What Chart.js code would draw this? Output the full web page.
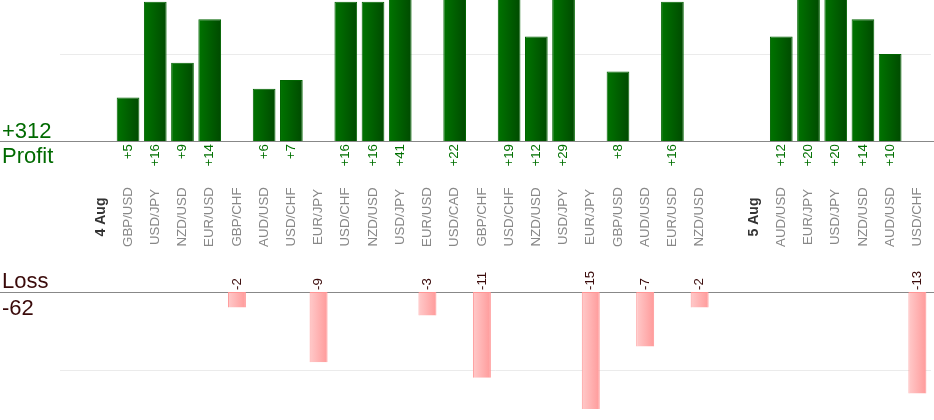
<!DOCTYPE html>
<html>
<head>
<meta charset="utf-8">
<script src="https://cdn.jsdelivr.net/npm/chart.js@4.4.1/dist/chart.umd.min.js"></script>
<style>
  body { margin: 0; background: #fff; }
  #wrap { position: relative; width: 934px; height: 420px; }
</style>
</head>
<body>
<div id="wrap"><canvas id="pnlChart"></canvas></div>
<script>
// one slot per trade, '' = spacer before each day
const categories = ['', '4 Aug', 'GBP/USD', 'USD/JPY', 'NZD/USD', 'EUR/USD', 'GBP/CHF', 'AUD/USD', 'USD/CHF', 'EUR/JPY',
  'USD/CHF', 'NZD/USD', 'USD/JPY', 'EUR/USD', 'USD/CAD', 'GBP/CHF', 'USD/CHF', 'NZD/USD', 'USD/JPY', 'EUR/JPY',
  'GBP/USD', 'AUD/USD', 'EUR/USD', 'NZD/USD', '', '5 Aug', 'AUD/USD', 'EUR/JPY', 'USD/JPY', 'NZD/USD', 'AUD/USD', 'USD/CHF'];
const dayLabels = ['4 Aug', '5 Aug'];
const profit = [null, null, 5, 16, 9, 14, null, 6, 7, null, 16, 16, 41, null, 22, null, 19, 12, 29, null,
  8, null, 16, null, null, null, 12, 20, 20, 14, 10, null];
const loss = [null, null, null, null, null, null, -2, null, null, -9, null, null, null, -3, null, -11, null, null, null, -15,
  null, -7, null, -2, null, null, null, null, null, null, null, -13];

const FONT = "Arial, 'Liberation Sans', sans-serif";
const H = 420;
const profitZero = 141, profitPx = 8.7;   // pixel of 0 and px per unit, top part
const lossZero = 292, lossPx = 7.8;       // same for the loss part

const totalProfit = profit.reduce((a, v) => a + (v || 0), 0);
const totalLoss = loss.reduce((a, v) => a + (v || 0), 0);

function barGrad(c, from, to) {
  const chart = c.chart;
  const xs = chart.scales && chart.scales.x;
  if (!chart.chartArea || !xs || c.dataIndex === undefined) return from;
  const x = xs.getPixelForValue(c.dataIndex);
  const w = xs.width / chart.data.labels.length * c.dataset.barPercentage;
  const g = chart.ctx.createLinearGradient(x - w / 2, 0, x + w / 2, 0);
  g.addColorStop(0, from);
  g.addColorStop(1, to);
  return g;
}

const textPlugin = {
  id: 'pnlText',
  beforeDatasetsDraw(chart) {
    const ctx = chart.ctx;
    const y0 = chart.scales.y.getPixelForValue(0);
    const y1 = chart.scales.y2.getPixelForValue(0);
    ctx.save();
    ctx.strokeStyle = '#888';
    ctx.lineWidth = 1;
    ctx.beginPath();
    ctx.moveTo(0, Math.round(y0) + 0.5); ctx.lineTo(chart.width, Math.round(y0) + 0.5);
    ctx.moveTo(0, Math.round(y1) + 0.5); ctx.lineTo(chart.width, Math.round(y1) + 0.5);
    ctx.stroke();
    ctx.restore();
  },
  afterDatasetsDraw(chart) {
    const ctx = chart.ctx;
    const xs = chart.scales.x;
    const y0 = chart.scales.y.getPixelForValue(0);
    const y1 = chart.scales.y2.getPixelForValue(0);
    const midY = (y0 + y1) / 2 + 0.5;

    ctx.save();
    ctx.textBaseline = 'middle';
    categories.forEach((lab, i) => {
      const x = xs.getPixelForValue(i);
      // category / day labels
      if (lab) {
        ctx.save();
        ctx.translate(x, midY);
        ctx.rotate(-Math.PI / 2);
        ctx.textAlign = 'center';
        if (dayLabels.includes(lab)) {
          ctx.font = 'bold 14px ' + FONT;
          ctx.fillStyle = '#333';
        } else {
          ctx.font = '13.3px ' + FONT;
          ctx.fillStyle = '#888';
        }
        ctx.fillText(lab, 0, 0);
        ctx.restore();
      }
      if (profit[i] != null) {
        ctx.save();
        ctx.translate(x, y0 + 3);
        ctx.rotate(-Math.PI / 2);
        ctx.textAlign = 'right';
        ctx.font = '13.3px ' + FONT;
        ctx.fillStyle = '#007000';
        ctx.fillText('+' + profit[i], 0, 0);
        ctx.restore();
      }
      if (loss[i] != null) {
        ctx.save();
        ctx.translate(x, y1 - 2);
        ctx.rotate(-Math.PI / 2);
        ctx.textAlign = 'left';
        ctx.font = '13.3px ' + FONT;
        ctx.fillStyle = '#3a0a0a';
        ctx.fillText(String(loss[i]), 0, 0);
        ctx.restore();
      }
    });

    // totals on the left
    ctx.textBaseline = 'alphabetic';
    ctx.textAlign = 'left';
    ctx.font = '22px ' + FONT;
    ctx.fillStyle = '#006a00';
    ctx.fillText('+' + totalProfit, 2, y0 - 3);
    ctx.fillText('Profit', 2, y0 + 22);
    ctx.fillStyle = '#3a0a0a';
    ctx.fillText('Loss', 2, y1 - 4);
    ctx.fillText(String(totalLoss), 2, y1 + 23);
    ctx.restore();
  }
};

const ctx = document.getElementById('pnlChart').getContext('2d');
const pnlChart = new Chart(ctx, {
  type: 'bar',
  data: {
    labels: categories,
    datasets: [{
      label: 'Profit',
      data: profit,
      yAxisID: 'y',
      barPercentage: 0.834,
      categoryPercentage: 1,
      backgroundColor: c => barGrad(c, '#007400', '#004a00'),
      borderColor: '#006400',
      borderWidth: 1,
      borderSkipped: 'bottom'
    }, {
      label: 'Loss',
      data: loss,
      yAxisID: 'y2',
      barPercentage: 0.66,
      categoryPercentage: 1,
      backgroundColor: c => barGrad(c, '#ffcaca', '#ff9a9a'),
      borderColor: '#ff9595',
      borderWidth: 1,
      borderSkipped: 'top'
    }]
  },
  options: {
    responsive: true,
    maintainAspectRatio: false,
    animation: false,
    grouped: false,
    layout: { padding: { left: 60, right: 3, top: 0, bottom: 0 } },
    plugins: {
      legend: { display: false },
      tooltip: { enabled: false }
    },
    scales: {
      x: { display: false },
      y: {
        position: 'left',
        max: profitZero / profitPx,
        min: (profitZero - H) / profitPx,
        ticks: { display: false },
        border: { display: false },
        grid: { drawTicks: false, color: '#ebebeb' },
        afterBuildTicks: s => { s.ticks = [{ value: 10 }]; }
      },
      y2: {
        position: 'left',
        max: lossZero / lossPx,
        min: (lossZero - H) / lossPx,
        ticks: { display: false },
        border: { display: false },
        grid: { drawTicks: false, color: '#ebebeb' },
        afterBuildTicks: s => { s.ticks = [{ value: -10 }]; }
      }
    }
  },
  plugins: [textPlugin]
});
</script>
</body>
</html>
